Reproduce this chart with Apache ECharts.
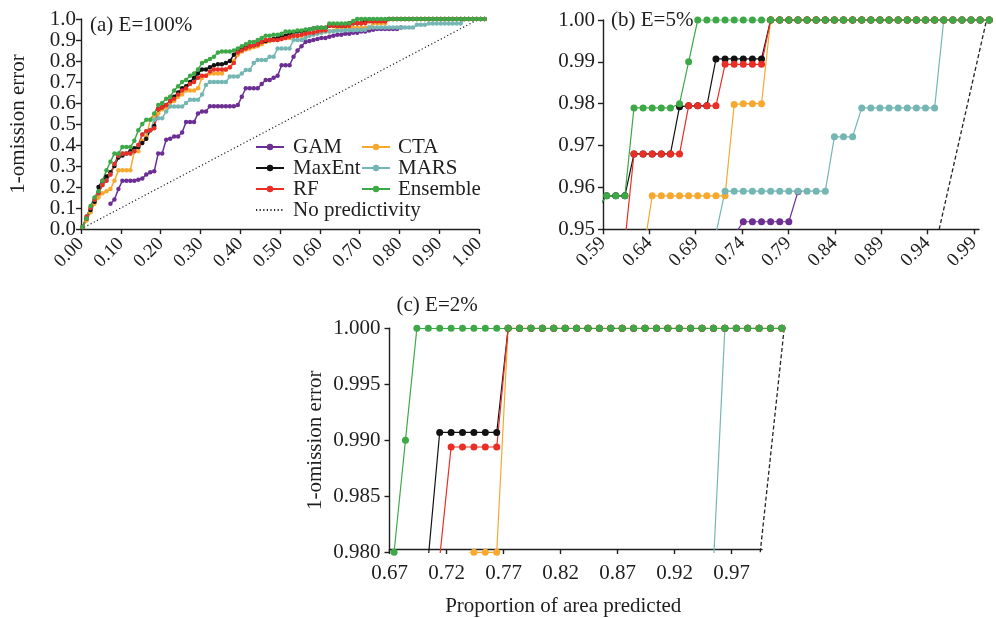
<!DOCTYPE html>
<html><head><meta charset="utf-8">
<script src="https://cdn.jsdelivr.net/npm/echarts@6/dist/echarts.min.js"></script>
<style>html,body{margin:0;padding:0;background:#fff}#c{width:996px;height:618px}</style>
</head><body><div id="c"></div>
<script>
// Proportion of area predicted (x positions of the threshold points)
const AREA = [
0.004,0.014,0.024,0.034,0.044,0.054,0.064,0.074,0.084,0.094,
0.104,0.114,0.124,0.134,0.144,0.154,0.164,0.174,0.184,0.194,
0.204,0.214,0.224,0.234,0.244,0.254,0.264,0.274,0.284,0.294,
0.304,0.314,0.324,0.334,0.344,0.354,0.364,0.374,0.384,0.394,
0.404,0.414,0.424,0.434,0.444,0.454,0.464,0.474,0.484,0.494,
0.504,0.514,0.524,0.534,0.544,0.554,0.564,0.574,0.584,0.594,
0.604,0.614,0.624,0.634,0.644,0.654,0.664,0.674,0.684,0.694,
0.704,0.714,0.724,0.734,0.744,0.754,0.764,0.774,0.784,0.794,
0.804,0.814,0.824,0.834,0.844,0.854,0.864,0.874,0.884,0.894,
0.904,0.914,0.924,0.934,0.944,0.954,0.964,0.974,0.984,0.994,
1.004,1.014];

// 1-omission error per model
const ENSEMBLE = [
0.01,0.05,0.11,0.15,0.18,0.23,0.28,0.32,0.36,0.36,
0.39,0.39,0.39,0.42,0.47,0.50,0.52,0.52,0.55,0.59,
0.60,0.62,0.63,0.66,0.68,0.70,0.71,0.73,0.74,0.76,
0.79,0.80,0.81,0.82,0.84,0.845,0.845,0.845,0.85,0.86,
0.87,0.88,0.89,0.89,0.90,0.91,0.92,0.92,0.925,0.925,
0.93,0.94,0.94,0.94,0.945,0.945,0.95,0.95,0.955,0.958,
0.958,0.958,0.979,0.979,0.979,0.979,0.979,0.980,0.990,1,
1,1,1,1,1,1,1,1,1,1,
1,1,1,1,1,1,1,1,1,1,
1,1,1,1,1,1,1,1,1,1,
1,1];
const MAXENT = [
0.01,0.05,0.09,0.13,0.20,0.23,0.25,0.27,0.30,0.34,
0.35,0.36,0.37,0.385,0.39,0.41,0.43,0.47,0.49,0.57,
0.58,0.59,0.61,0.63,0.65,0.67,0.68,0.70,0.72,0.74,
0.76,0.76,0.77,0.78,0.785,0.785,0.79,0.80,0.83,0.85,
0.86,0.865,0.87,0.875,0.88,0.89,0.895,0.90,0.905,0.91,
0.915,0.92,0.93,0.935,0.94,0.94,0.945,0.95,0.955,0.958,
0.958,0.958,0.968,0.968,0.968,0.968,0.968,0.9793,0.9795,0.9795,
0.9795,0.9907,0.9907,0.9907,0.9907,0.9907,0.9907,1,1,1,
1,1,1,1,1,1,1,1,1,1,
1,1,1,1,1,1,1,1,1,1,
1,1];
const RF = [
0.01,0.06,0.10,0.14,0.17,0.21,0.23,0.26,0.31,0.35,
0.36,0.36,0.36,0.37,0.40,0.45,0.465,0.47,0.48,0.57,
0.58,0.59,0.61,0.62,0.64,0.66,0.67,0.69,0.70,0.72,
0.73,0.73,0.75,0.76,0.76,0.76,0.76,0.77,0.79,0.84,
0.85,0.86,0.87,0.875,0.88,0.89,0.90,0.90,0.90,0.90,
0.905,0.91,0.915,0.92,0.92,0.925,0.93,0.935,0.935,0.940,
0.945,0.947,0.968,0.968,0.968,0.968,0.968,0.968,0.9795,0.9795,
0.9795,0.9795,0.9894,0.9894,0.9894,0.9894,0.9894,1,1,1,
1,1,1,1,1,1,1,1,1,1,
1,1,1,1,1,1,1,1,1,1,
1,1];
const CTA = [
0.01,0.04,0.08,0.12,0.15,0.17,0.18,0.19,0.23,0.28,
0.28,0.28,0.28,0.37,0.37,0.42,0.44,0.52,0.54,0.55,
0.57,0.58,0.60,0.61,0.63,0.64,0.66,0.66,0.66,0.67,
0.72,0.73,0.74,0.74,0.74,0.74,0.76,0.77,0.80,0.83,
0.845,0.855,0.86,0.865,0.87,0.88,0.89,0.895,0.90,0.90,
0.905,0.91,0.91,0.915,0.92,0.92,0.925,0.93,0.93,0.935,
0.940,0.940,0.942,0.944,0.958,0.958,0.958,0.958,0.958,0.958,
0.958,0.958,0.958,0.9798,0.98,0.98,0.98,1,1,1,
1,1,1,1,1,1,1,1,1,1,
1,1,1,1,1,1,1,1,1,1,
1,1];
const MARS = [
0.01,0.06,0.10,0.14,0.17,0.21,0.23,0.26,0.31,0.35,
0.36,0.36,0.36,0.37,0.40,0.45,0.465,0.47,0.52,0.527,
0.527,0.56,0.583,0.583,0.583,0.583,0.60,0.615,0.615,0.615,
0.64,0.686,0.70,0.70,0.70,0.70,0.70,0.726,0.726,0.726,
0.74,0.757,0.757,0.79,0.805,0.805,0.805,0.82,0.82,0.86,
0.86,0.86,0.86,0.90,0.90,0.90,0.91,0.92,0.925,0.930,
0.935,0.940,0.940,0.942,0.944,0.944,0.946,0.946,0.947,0.948,
0.948,0.949,0.9591,0.9591,0.9591,0.9591,0.9591,0.9591,0.9591,0.9591,
0.9591,0.9591,0.9591,0.9591,0.9721,0.9721,0.9721,0.979,0.979,0.979,
0.979,0.979,0.979,0.979,0.979,0.979,1,1,1,1,
1,1];
const GAM = [
null,null,null,null,null,null,null,0.12,0.14,0.19,
0.23,0.23,0.23,0.23,0.235,0.24,0.26,0.27,0.275,0.36,
0.36,0.425,0.43,0.44,0.44,0.46,0.51,0.51,0.51,0.55,
0.56,0.56,0.585,0.585,0.585,0.585,0.585,0.585,0.585,0.59,
0.63,0.67,0.67,0.67,0.67,0.69,0.71,0.71,0.72,0.73,
0.78,0.78,0.78,0.82,0.85,0.87,0.89,0.895,0.90,0.905,
0.91,0.91,0.915,0.92,0.925,0.925,0.93,0.93,0.935,0.935,
0.94,0.94,0.945,0.9486,0.9518,0.9518,0.9518,0.9518,0.9518,0.9518,
0.959,null,null,null,null,null,null,null,null,null,
null,null,null,null,null,null,null,null,null,null,
null,null];

// "No predictivity" reference line as drawn in each panel
const NOPRED_A = [[0,0],[1,1]];
const NOPRED_B = [[0.959,0.95],[1.011,1.0]];
const NOPRED_C = [[0.995,0.98],[1.016,1.0]];

// tick labels
const TICKS_B_X = [0.59,0.64,0.69,0.74,0.79,0.84,0.89,0.94,0.99];
const TICKS_C_X = [0.67,0.72,0.77,0.82,0.87,0.92,0.97];

const FONT = 'Liberation Serif';
const INK = '#1e1e1e';

const MODELS = [
  {name:'GAM', ys:GAM, color:'#6C2E93'},
  {name:'CTA', ys:CTA, color:'#F6A82F'},
  {name:'MaxEnt', ys:MAXENT, color:'#111111'},
  {name:'MARS', ys:MARS, color:'#74B6B3'},
  {name:'RF', ys:RF, color:'#EA2E26'},
  {name:'Ensemble', ys:ENSEMBLE, color:'#3DA846'}
];

// layout
const GA = {left:81, top:19, width:398, height:210};
const B_MIN = 0.59, B_AXIS_MAX = 0.9955, B_AXIS_W = 376, B_DATA_W = 400;
const C_MIN = 0.67, C_AXIS_MAX = 0.99655, C_AXIS_W = 372.5, C_DATA_W = 400;
const B_DATA_MAX = B_MIN + B_DATA_W * (B_AXIS_MAX - B_MIN) / B_AXIS_W;
const C_DATA_MAX = C_MIN + C_DATA_W * (C_AXIS_MAX - C_MIN) / C_AXIS_W;
const GB = {left:603, top:20, height:209.3};
const GC = {left:389.5, top:328.3, height:224};

const lineAx = {show:true, onZero:false, lineStyle:{color:INK, width:1.4}};
const tickAx = {show:true, length:5, lineStyle:{color:INK, width:1.4}};
const lab = {color:INK, fontFamily:FONT, fontSize:21};
const noSplit = {show:false};

const grids = [
  GA,
  {left:GB.left, top:GB.top, width:B_DATA_W, height:GB.height},
  {left:GB.left, top:GB.top, width:B_AXIS_W, height:GB.height},
  {left:GC.left, top:GC.top, width:C_DATA_W, height:GC.height},
  {left:GC.left, top:GC.top, width:C_AXIS_W, height:GC.height}
];

const xAxes = [
  {type:'value', gridIndex:0, min:0, max:1, interval:0.1, axisLine:lineAx, axisTick:tickAx,
   axisLabel:Object.assign({}, lab, {fontSize:19, rotate:45, margin:12, formatter:v=>v.toFixed(2)}), splitLine:noSplit},
  {type:'value', gridIndex:1, min:B_MIN, max:B_DATA_MAX, show:false, splitLine:noSplit},
  {type:'value', gridIndex:2, min:B_MIN, max:B_AXIS_MAX, interval:0.05, axisLine:lineAx,
   axisTick:Object.assign({}, tickAx, {customValues:TICKS_B_X}),
   axisLabel:Object.assign({}, lab, {fontSize:19, rotate:45, margin:11, customValues:TICKS_B_X, formatter:v=>v.toFixed(2)}), splitLine:noSplit},
  {type:'value', gridIndex:3, min:C_MIN, max:C_DATA_MAX, show:false, splitLine:noSplit},
  {type:'value', gridIndex:4, min:C_MIN, max:C_AXIS_MAX, interval:0.05, axisLine:lineAx,
   axisTick:Object.assign({}, tickAx, {customValues:TICKS_C_X}),
   axisLabel:Object.assign({}, lab, {margin:14, customValues:TICKS_C_X, formatter:v=>v.toFixed(2)}),
   name:'Proportion of area predicted', nameLocation:'middle', nameGap:47,
   nameTextStyle:Object.assign({}, lab, {padding:[0,25,0,0]}), splitLine:noSplit}
];

const yAxes = [
  {type:'value', gridIndex:0, min:0, max:1, interval:0.1, axisLine:lineAx, axisTick:tickAx,
   axisLabel:Object.assign({}, lab, {margin:5, formatter:v=>v.toFixed(1)}),
   name:'1-omission error', nameLocation:'middle', nameGap:52, nameTextStyle:lab, splitLine:noSplit},
  {type:'value', gridIndex:1, min:0.95, max:1, interval:0.01, axisLine:lineAx, axisTick:tickAx,
   axisLabel:Object.assign({}, lab, {margin:8, formatter:v=>v.toFixed(2)}), splitLine:noSplit},
  {type:'value', gridIndex:2, min:0.95, max:1, show:false, splitLine:noSplit},
  {type:'value', gridIndex:3, min:0.98, max:1, interval:0.005, axisLine:lineAx, axisTick:tickAx,
   axisLabel:Object.assign({}, lab, {margin:9, formatter:v=>v.toFixed(3)}),
   name:'1-omission error', nameLocation:'middle', nameGap:64, nameTextStyle:lab, splitLine:noSplit},
  {type:'value', gridIndex:4, min:0.98, max:1, show:false, splitLine:noSplit}
];

const PANELS = [
  {xi:0, yi:0, sym:4.5, lw:1.5, clip:false, nopred:NOPRED_A, dash:[1.2,2.4], dw:1.2},
  {xi:1, yi:1, sym:7, lw:1.2, clip:true, nopred:NOPRED_B, dash:[4,2.5], dw:1.3},
  {xi:3, yi:3, sym:7, lw:1.2, clip:true, nopred:NOPRED_C, dash:[4,2.5], dw:1.3}
];

const series = [];
PANELS.forEach(p => {
  series.push({
    type:'line', name:'No predictivity', xAxisIndex:p.xi, yAxisIndex:p.yi,
    data:p.nopred, symbol:'none', clip:p.clip, silent:true,
    itemStyle:{color:'rgba(0,0,0,0)'},
    lineStyle:{color:'#222', width:p.dw, type:p.dash}
  });
  MODELS.forEach(m => {
    series.push({
      type:'line', name:m.name, xAxisIndex:p.xi, yAxisIndex:p.yi,
      data:AREA.map((x,i)=>[x, m.ys[i]]),
      symbol:'circle', symbolSize:p.sym, showSymbol:true, clip:p.clip, silent:true,
      connectNulls:false,
      itemStyle:{color:m.color},
      lineStyle:{color:m.color, width:p.lw}
    });
  });
});

const legendBase = {
  orient:'vertical', top:136.5, padding:0, itemGap:0, itemWidth:28, itemHeight:8,
  selectedMode:false, textStyle:{color:INK, fontFamily:FONT, fontSize:21, lineHeight:21, padding:[0,0,0,4]}
};

const option = {
  animation:false,
  backgroundColor:'#fff',
  title:[
    {text:'(a) E=100%', left:90, top:14.5, padding:0, textStyle:{color:INK, fontFamily:FONT, fontSize:21, fontWeight:'normal'}},
    {text:'(b) E=5%', left:611, top:9.5, padding:0, textStyle:{color:INK, fontFamily:FONT, fontSize:21, fontWeight:'normal'}},
    {text:'(c) E=2%', left:396.5, top:295, padding:0, textStyle:{color:INK, fontFamily:FONT, fontSize:21, fontWeight:'normal'}}
  ],
  legend:[
    Object.assign({}, legendBase, {left:255, data:['GAM','MaxEnt','RF',{name:'No predictivity', itemStyle:{color:'rgba(0,0,0,0)', opacity:0}}]}),
    Object.assign({}, legendBase, {left:361, textStyle:Object.assign({}, legendBase.textStyle, {padding:[0,0,0,3]}), data:['CTA','MARS','Ensemble']})
  ],
  grid:grids,
  xAxis:xAxes,
  yAxis:yAxes,
  series:series
};

const chart = echarts.init(document.getElementById('c'), null, {renderer:'canvas', width:996, height:618});
chart.setOption(option);
</script>
</body></html>
